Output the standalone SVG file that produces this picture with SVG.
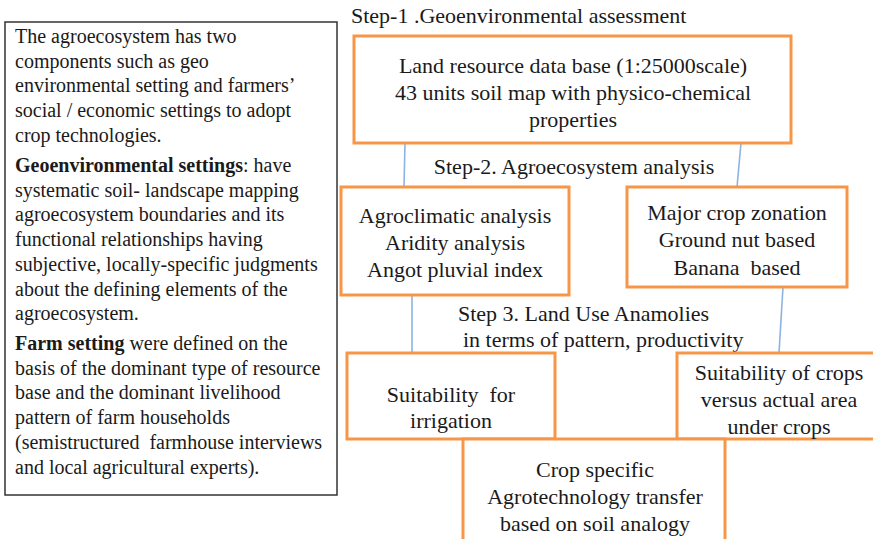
<svg xmlns="http://www.w3.org/2000/svg" width="873" height="539" viewBox="0 0 873 539">
<style>
text{font-family:"Liberation Serif","Times New Roman",serif;fill:#1a1a1a}
.l{font-size:20px}
.r{font-size:22px}
.c{text-anchor:middle}
.box{fill:#fff;stroke:#F79646;stroke-width:3}
.note{fill:#fff;stroke:#333;stroke-width:1.5}
.con{stroke:#8DB3E2;stroke-width:1.6;fill:none}
</style>
<rect width="873" height="539" fill="#fff"/>
<g id="note">
<rect class="note" x="5" y="22" width="332" height="473"/>
<text class="l" x="15" y="43">The agroecosystem has two</text>
<text class="l" x="15" y="67.7">components such as geo</text>
<text class="l" x="15" y="92.4">environmental setting and farmers’</text>
<text class="l" x="15" y="117.1">social / economic settings to adopt</text>
<text class="l" x="15" y="141.8">crop technologies.</text>
<text class="l" x="15" y="172"><tspan font-weight="bold">Geoenvironmental settings</tspan>: have</text>
<text class="l" x="15" y="196.7">systematic soil- landscape mapping</text>
<text class="l" x="15" y="221.4">agroecosystem boundaries and its</text>
<text class="l" x="15" y="246.1">functional relationships having</text>
<text class="l" x="15" y="270.8">subjective, locally-specific judgments</text>
<text class="l" x="15" y="295.5">about the defining elements of the</text>
<text class="l" x="15" y="320.2">agroecosystem.</text>
<text class="l" x="15" y="350"><tspan font-weight="bold">Farm setting</tspan> were defined on the</text>
<text class="l" x="15" y="374.7">basis of the dominant type of resource</text>
<text class="l" x="15" y="399.4">base and the dominant livelihood</text>
<text class="l" x="15" y="424.1">pattern of farm households</text>
<text class="l" x="15" y="448.8" xml:space="preserve">(semistructured  farmhouse interviews</text>
<text class="l" x="15" y="473.5">and local agricultural experts).</text>
</g>
<g id="connectors">
<line class="con" x1="405" y1="143" x2="404" y2="187"/>
<line class="con" x1="741" y1="143" x2="737" y2="187"/>
<line class="con" x1="412" y1="295" x2="412" y2="353"/>
<line class="con" x1="783" y1="287" x2="779" y2="353"/>
</g>
<g id="labels">
<text class="r" x="351" y="23">Step-1 .Geoenvironmental assessment</text>
<text class="r c" x="574" y="174">Step-2. Agroecosystem analysis</text>
<text class="r" x="458" y="321">Step 3. Land Use Anamolies</text>
<text class="r" x="463" y="347">in terms of pattern, productivity</text>
</g>
<g id="land">
<rect class="box" x="354" y="36" width="437" height="107"/>
<text class="r c" x="573" y="73">Land resource data base (1:25000scale)</text>
<text class="r c" x="573" y="100">43 units soil map with physico-chemical</text>
<text class="r c" x="573" y="127">properties</text>
</g>
<g id="agro">
<rect class="box" x="341" y="187" width="228" height="108"/>
<text class="r c" x="455" y="223">Agroclimatic analysis</text>
<text class="r c" x="455" y="250">Aridity analysis</text>
<text class="r c" x="455" y="277">Angot pluvial index</text>
</g>
<g id="crop">
<rect class="box" x="627" y="187" width="220" height="100"/>
<text class="r c" x="737" y="220">Major crop zonation</text>
<text class="r c" x="737" y="247">Ground nut based</text>
<text class="r c" x="737" y="275" xml:space="preserve">Banana  based</text>
</g>
<g id="irrigation">
<rect class="box" x="347" y="353" width="208" height="86"/>
<text class="r c" x="451" y="402" xml:space="preserve">Suitability  for</text>
<text class="r c" x="451" y="428">irrigation</text>
</g>
<g id="suitability">
<rect class="box" x="677" y="353" width="210" height="86"/>
<text class="r c" x="779" y="380">Suitability of crops</text>
<text class="r c" x="779" y="407">versus actual area</text>
<text class="r c" x="779" y="434">under crops</text>
</g>
<g id="transfer">
<rect class="box" x="463" y="439" width="262" height="110"/>
<text class="r c" x="595" y="477">Crop specific</text>
<text class="r c" x="595" y="504">Agrotechnology transfer</text>
<text class="r c" x="595" y="531">based on soil analogy</text>
</g>
</svg>
